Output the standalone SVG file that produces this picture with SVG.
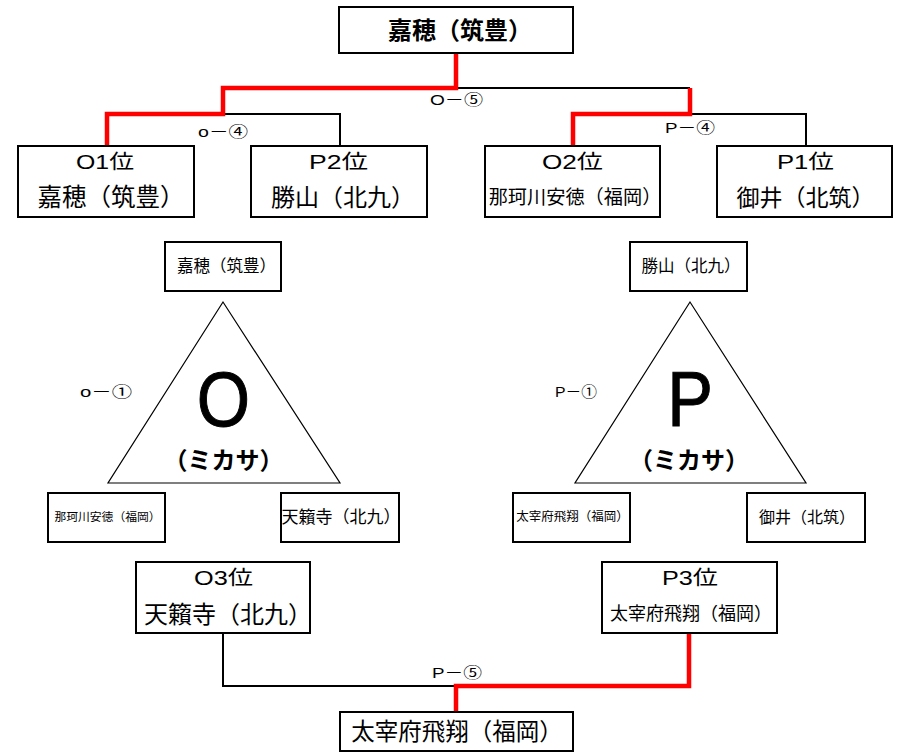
<svg xmlns="http://www.w3.org/2000/svg" width="899" height="752" viewBox="0 0 899 752">
<style>
text{font-family:"Liberation Sans","Noto Sans CJK JP",sans-serif;fill:#000;text-anchor:middle}
.box{fill:#fff;stroke:#000;stroke-width:2}
.tri{fill:#fff;stroke:#000;stroke-width:1.2}
.blk{fill:none;stroke:#000;stroke-width:2}
.red{fill:none;stroke:#f00;stroke-width:4.5}
.lbl{font-size:15px}
.big{font-size:77px;stroke:#000;stroke-width:1}
.b{font-weight:bold}
</style>
<rect width="899" height="752" fill="#fff"/>
<g id="connectors">
<polyline class="blk" points="456,88 690,88"/>
<polyline class="blk" points="223,114 340,114 340,146"/>
<polyline class="blk" points="690,114 806,114 806,146"/>
<polyline class="blk" points="223,633 223,686 456,686"/>
<polyline class="red" points="456,53 456,88 223,88 223,114 107,114 107,146"/>
<polyline class="red" points="690,88 690,114 573,114 573,146"/>
<polyline class="red" points="689,633 689,686 456,686 456,712"/>
<text class="lbl" x="456.5" y="105" textLength="53" lengthAdjust="spacingAndGlyphs">O－⑤</text>
<text class="lbl" x="223" y="137" textLength="50" lengthAdjust="spacingAndGlyphs">o－④</text>
<text class="lbl" x="690" y="133" textLength="50" lengthAdjust="spacingAndGlyphs">P－④</text>
<text class="lbl" x="457" y="678" textLength="50" lengthAdjust="spacingAndGlyphs">P－⑤</text>
</g>
<g id="top"><rect class="box" x="339" y="7" width="234" height="46"/><text class="b" x="460" y="39" font-size="24">嘉穂（筑豊）</text></g>
<g id="o1"><rect class="box" x="18" y="146" width="176" height="71"/><text x="105" y="169" font-size="20" textLength="58" lengthAdjust="spacingAndGlyphs">O1位</text><text x="111" y="206" font-size="24.5">嘉穂（筑豊）</text></g>
<g id="p2"><rect class="box" x="251" y="146" width="176" height="71"/><text x="338.5" y="169" font-size="20" textLength="59" lengthAdjust="spacingAndGlyphs">P2位</text><text x="343" y="206" font-size="24">勝山（北九）</text></g>
<g id="o2"><rect class="box" x="485" y="146" width="175" height="71"/><text x="572.5" y="169" font-size="20" textLength="61" lengthAdjust="spacingAndGlyphs">O2位</text><text x="575" y="204" font-size="19.2">那珂川安徳（福岡）</text></g>
<g id="p1"><rect class="box" x="717" y="146" width="175" height="71"/><text x="805.5" y="169" font-size="20" textLength="57" lengthAdjust="spacingAndGlyphs">P1位</text><text x="805.5" y="206" font-size="23">御井（北筑）</text></g>
<g id="groupO">
<polygon class="tri" points="223,302 108,483 340,483"/>
<text class="big" transform="translate(223.5,426) scale(0.89,1)">O</text>
<text class="b" x="223.5" y="469" font-size="24">（ミカサ）</text>
<text class="lbl" x="106" y="397" textLength="52" lengthAdjust="spacingAndGlyphs">o－①</text>
</g>
<g id="o-kaho"><rect class="box" x="165" y="242" width="116" height="49"/><text x="226.5" y="272" font-size="16.5">嘉穂（筑豊）</text></g>
<g id="o-nakagawa"><rect class="box" x="48" y="493" width="117" height="49"/><text x="107.5" y="521" font-size="11.8">那珂川安徳（福岡）</text></g>
<g id="o-tenraiji"><rect class="box" x="281" y="493" width="118" height="49"/><text x="341" y="523" font-size="17">天籟寺（北九）</text></g>
<g id="groupP">
<polygon class="tri" points="690,302 575,483 806,483"/>
<text class="big" transform="translate(690,426) scale(0.89,1)">P</text>
<text class="b" x="689" y="469" font-size="24">（ミカサ）</text>
<text class="lbl" x="576" y="397" textLength="42" lengthAdjust="spacingAndGlyphs">P－①</text>
</g>
<g id="p-katsuyama"><rect class="box" x="630" y="242" width="117" height="49"/><text x="691" y="272" font-size="16.5">勝山（北九）</text></g>
<g id="p-dazaifu"><rect class="box" x="513" y="493" width="117" height="49"/><text x="572.5" y="521" font-size="12.5">太宰府飛翔（福岡）</text></g>
<g id="p-mii"><rect class="box" x="747" y="493" width="118" height="49"/><text x="807" y="523" font-size="16">御井（北筑）</text></g>
<g id="o3"><rect class="box" x="136" y="562" width="174" height="71"/><text x="223.5" y="585" font-size="20" textLength="59" lengthAdjust="spacingAndGlyphs">O3位</text><text x="228" y="623" font-size="24">天籟寺（北九）</text></g>
<g id="p3"><rect class="box" x="602" y="562" width="175" height="71"/><text x="690" y="585" font-size="20" textLength="56" lengthAdjust="spacingAndGlyphs">P3位</text><text x="691" y="620" font-size="18">太宰府飛翔（福岡）</text></g>
<g id="bottom"><rect class="box" x="340" y="712" width="233" height="39"/><text x="457" y="740" font-size="23.5">太宰府飛翔（福岡）</text></g>
</svg>
